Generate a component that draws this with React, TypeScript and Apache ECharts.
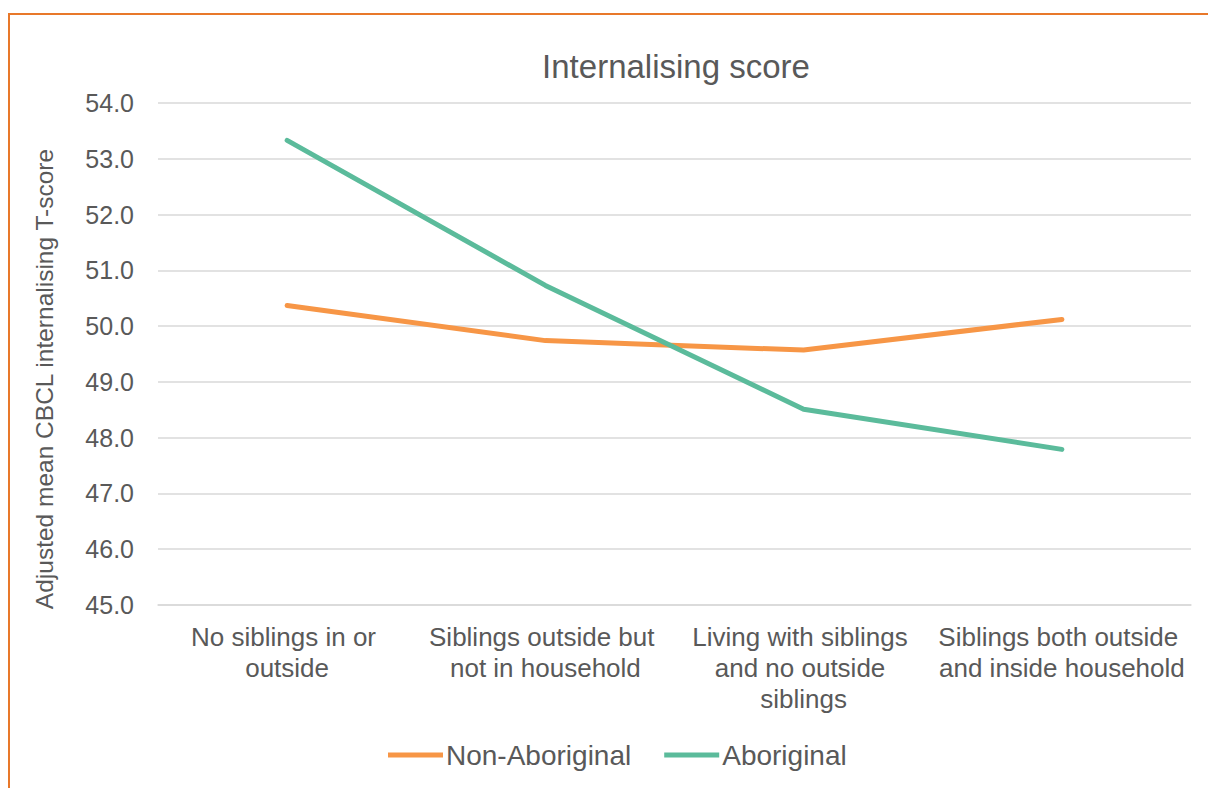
import React, { useEffect, useRef } from "react";
import * as echarts from "echarts";

const titleText = "Internalising score";
const yAxisName = "Adjusted mean CBCL internalising T-score";
const categories = [
  "No siblings in or outside",
  "Siblings outside but not in household",
  "Living with siblings and no outside siblings",
  "Siblings both outside and inside household",
];
const seriesNames = ["Non-Aboriginal", "Aboriginal"];
const nonAboriginal = [50.37, 49.74, 49.57, 50.12];
const aboriginal = [53.33, 50.73, 48.51, 47.79];
const yMin = 45;
const yMax = 54;
const yStep = 1;

const FONT = "'Liberation Sans', Arial, sans-serif";
const TEXT = "#595959";

export default function App() {
  const ref = useRef<HTMLDivElement>(null);
  useEffect(() => {
    if (!ref.current) return;
    const chart = echarts.init(ref.current, undefined, { renderer: "svg" });
    chart.setOption({
      animation: false,
      backgroundColor: "#ffffff",
      textStyle: { fontFamily: FONT },
      title: {
        text: titleText,
        left: 671,
        top: 45,
        textAlign: "center",
        textStyle: { fontFamily: FONT, fontSize: 33, fontWeight: "normal", color: TEXT },
      },
      graphic: [
        {
          type: "rect",
          shape: { x: 9, y: 14, width: 1400, height: 1000 },
          style: { fill: "none", stroke: "#E8782A", lineWidth: 2 },
          silent: true,
          z: -1,
        },
      ],
      legend: {
        left: 383,
        top: 736,
        icon: "rect",
        itemWidth: 55,
        itemHeight: 5,
        itemGap: 33,
        textStyle: { fontFamily: FONT, fontSize: 28, color: TEXT, padding: [0, 0, 0, -2] },
        data: seriesNames,
      },
      grid: { left: 158, right: 17, top: 103, bottom: 183, containLabel: false },
      xAxis: {
        type: "category",
        data: categories,
        boundaryGap: true,
        axisLine: { show: true, lineStyle: { color: "#D9D9D9", width: 1.5 } },
        axisTick: { show: false },
        axisLabel: {
          interval: 0,
          margin: 16,
          fontFamily: FONT,
          fontSize: 26,
          lineHeight: 31,
          color: TEXT,
          width: 252,
          overflow: "break",
        },
      },
      yAxis: {
        type: "value",
        min: yMin,
        max: yMax,
        interval: yStep,
        name: yAxisName,
        nameLocation: "middle",
        nameRotate: 90,
        nameGap: 101,
        nameTextStyle: {
          fontFamily: FONT,
          fontSize: 24.5,
          color: TEXT,
          padding: [0, 50, 0, 0],
        },
        axisLine: { show: false },
        axisTick: { show: false },
        axisLabel: {
          margin: 24,
          fontFamily: FONT,
          fontSize: 25,
          color: TEXT,
          formatter: (v: number) => v.toFixed(1),
        },
        splitLine: { lineStyle: { color: "#D9D9D9", width: 1.5 } },
      },
      series: [
        {
          name: seriesNames[0],
          type: "line",
          data: nonAboriginal,
          symbol: "none",
          color: "#F79646",
          lineStyle: { width: 5, color: "#F79646", cap: "round", join: "round" },
        },
        {
          name: seriesNames[1],
          type: "line",
          data: aboriginal,
          symbol: "none",
          color: "#5BBB9B",
          lineStyle: { width: 5, color: "#5BBB9B", cap: "round", join: "round" },
        },
      ],
    });
    return () => chart.dispose();
  }, []);
  return (
    <div
      ref={ref}
      style={{ position: "fixed", left: 0, top: 0, width: 1208, height: 788 }}
    />
  );
}
